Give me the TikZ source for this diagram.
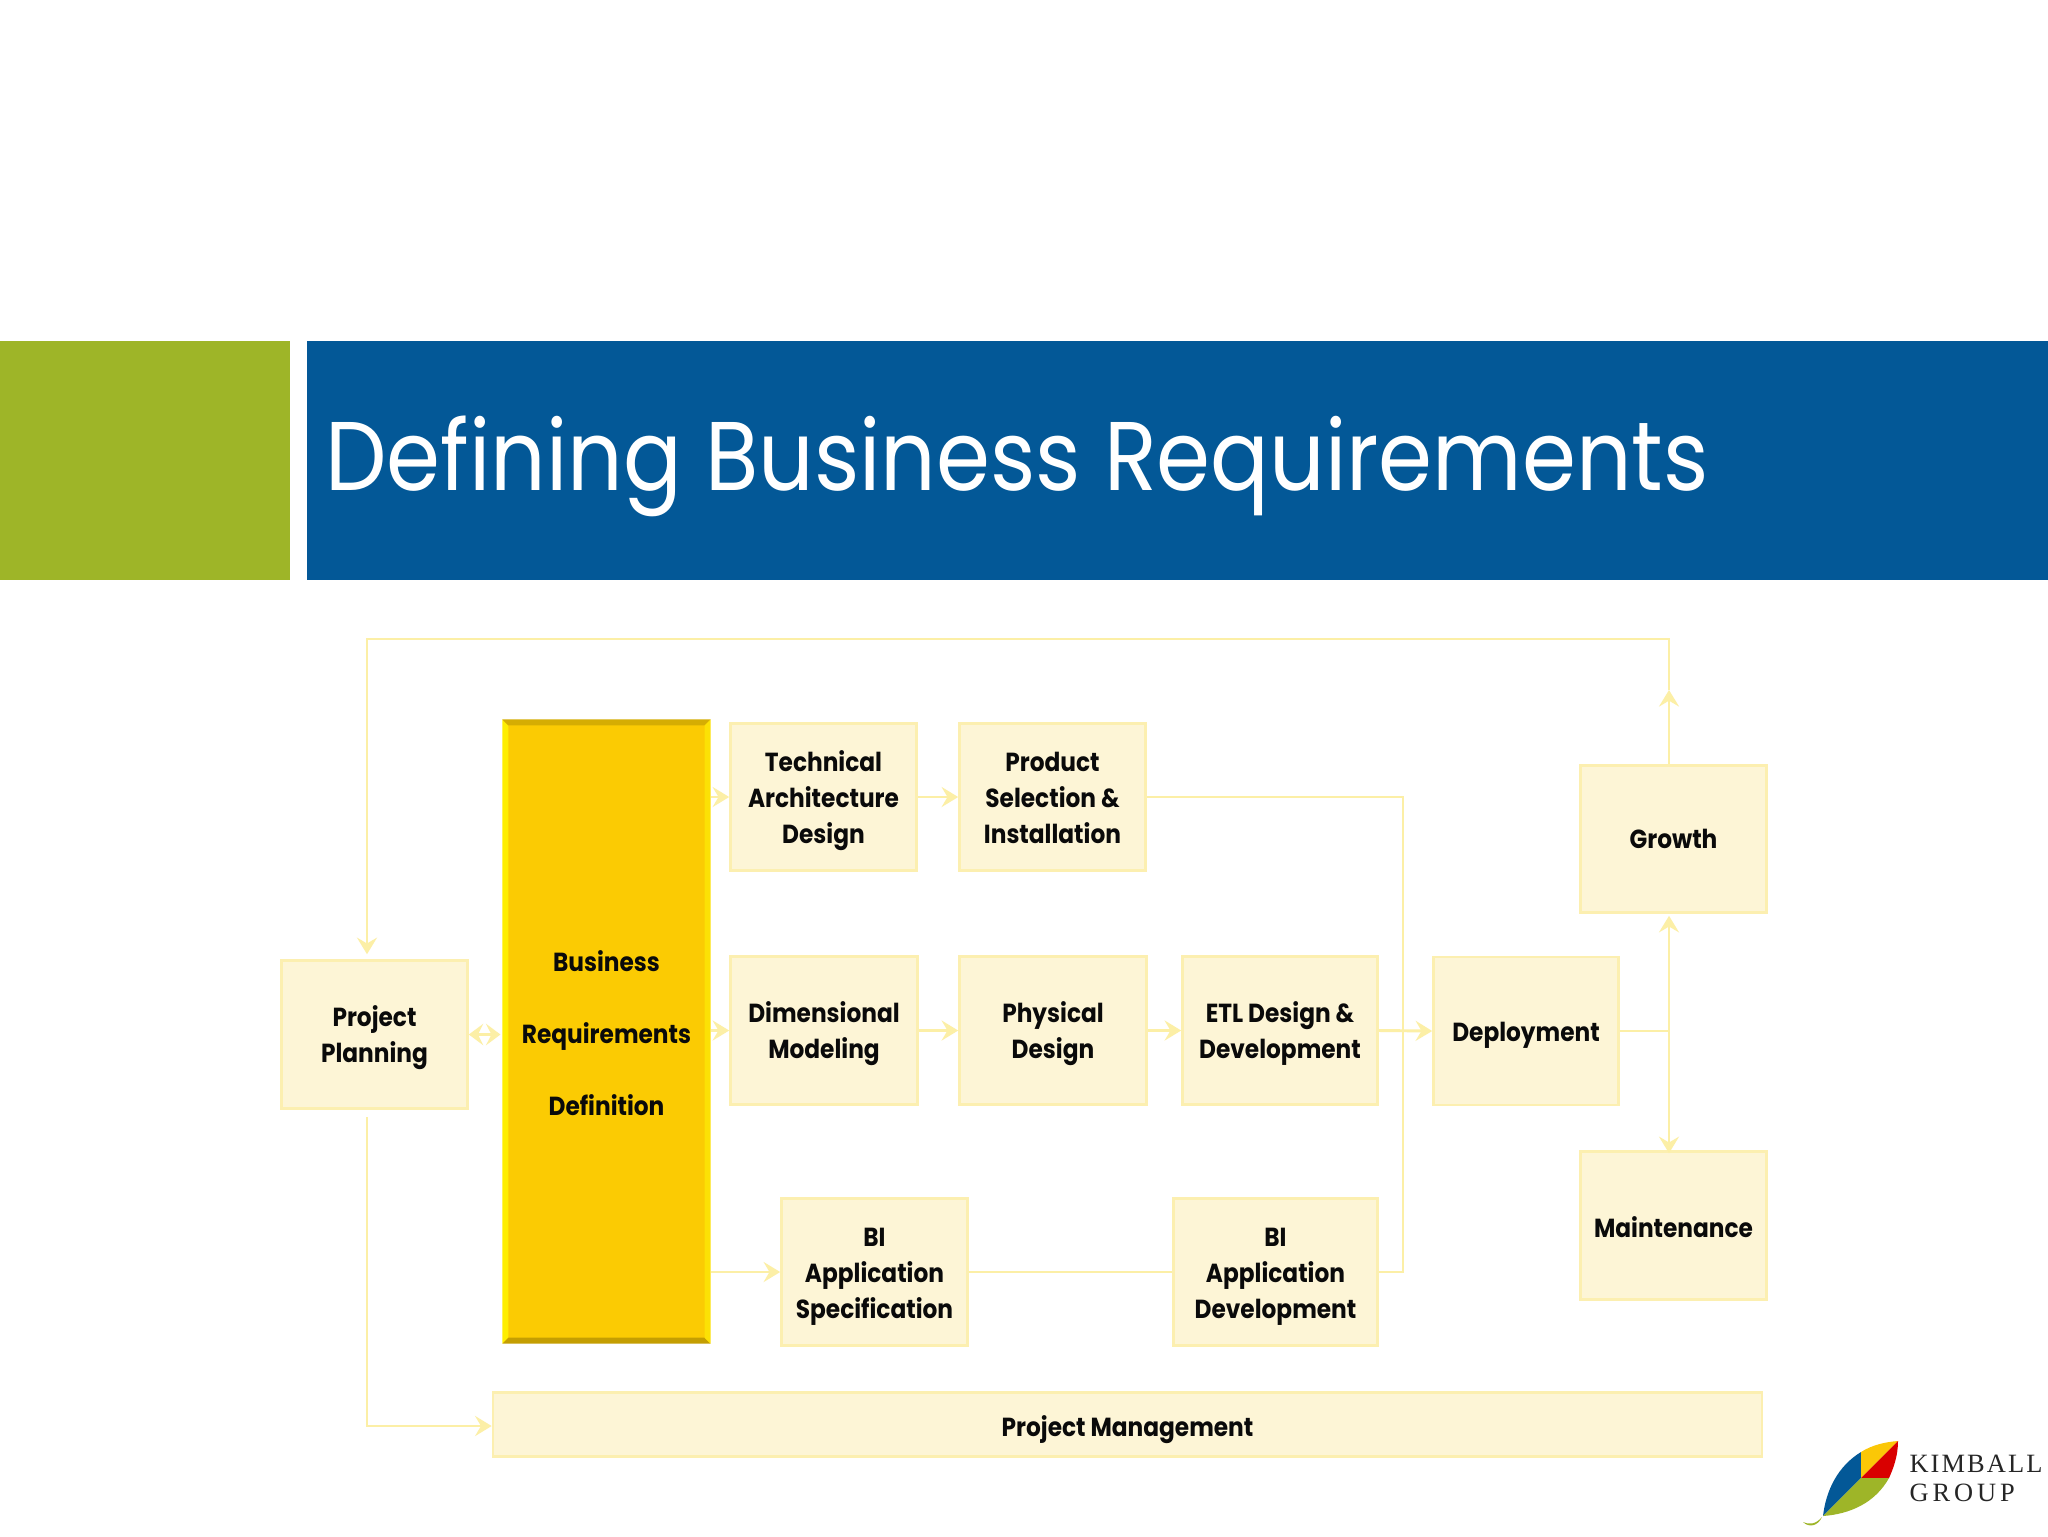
\documentclass[tikz,border=0pt]{standalone}
\usepackage{fontspec}
\usetikzlibrary{arrows.meta,calc}
\setmainfont{Poppins}
\newfontfamily\titlefont[FakeStretch=0.89]{Poppins}
\newfontfamily\labelfont[FakeStretch=0.89]{Poppins}
\newfontfamily\logofonta[LetterSpace=8]{Liberation Serif}
\newfontfamily\logofontb[LetterSpace=15]{Liberation Serif}
\newcommand\ts[1]{\rule{0pt}{#1pt}}
\newcommand\bs{\rule[-3pt]{0pt}{3pt}}
\definecolor{hdrgreen}{HTML}{9EB528}
\definecolor{hdrblue}{HTML}{035897}
\definecolor{boxfill}{HTML}{FDF5D6}
\definecolor{boxline}{HTML}{FCEFB0}
\definecolor{connline}{HTML}{FCEFA6}
\definecolor{bizfill}{HTML}{FBCB03}
\definecolor{labelink}{HTML}{0A0A0A}
\tikzset{
  x=0.375pt,y=-0.375pt,
  wh/.style n args={2}{minimum width=#1*0.375pt,minimum height=#2*0.375pt},
  stepbox/.style={rectangle,draw=boxline,fill=boxfill,line width=1pt,inner sep=0pt,align=center,
    text=labelink,font=\labelfont\bfseries\fontsize{9.8}{13.5}\selectfont},
  conn/.style={draw=connline,line width=1.1pt},
  tip/.tip={Stealth[length=6.2pt,width=7.5pt,inset=2.2pt]},
  tipsmall/.tip={Stealth[length=5.4pt,width=8pt,inset=2pt]},
}
\begin{document}
\begin{tikzpicture}
\useasboundingbox (0,0) rectangle (2048,1536);
\fill[white] (0,0) rectangle (2048,1536);
% header
\fill[hdrgreen] (0,341) rectangle (290,580);
\fill[hdrblue] (307,341) rectangle (2048,580);
\node[anchor=base west,inner sep=0pt,text=white,font=\titlefont\fontsize{36.6}{40}\selectfont] (title) at (325,490) {Defining Business Requirements};
% boxes
\node[stepbox,wh={186}{148}] (plan) at (374.5,1034.5) {\ts{10.5}Project\\Planning\bs};
\node[rectangle,fill=bizfill,inner sep=0pt,align=center,wh={207}{623},text=labelink,
  font=\labelfont\bfseries\fontsize{9.8}{27}\selectfont] (biz) at (606.5,1031.5) {\ts{12}Business\\Requirements\\Definition\bs};
\node[stepbox,wh={186}{147}] (tech) at (823.5,797) {\ts{11}Technical\\Architecture\\Design\bs};
\node[stepbox,wh={186}{147}] (prod) at (1052.5,797) {\ts{11}Product\\Selection \&\\Installation\bs};
\node[stepbox,wh={186}{147}] (growth) at (1673.5,839) {\ts{10}Growth\bs};
\node[stepbox,wh={187}{148}] (dim) at (824,1030.5) {\ts{10.5}Dimensional\\Modeling\bs};
\node[stepbox,wh={187}{148}] (phys) at (1053,1030.5) {\ts{10.5}Physical\\Design\bs};
\node[stepbox,wh={195}{148}] (etl) at (1280,1030.5) {\ts{10.5}ETL Design \&\\Development\bs};
\node[stepbox,wh={185}{148}] (depl) at (1526,1031) {\ts{11}Deployment\bs};
\node[stepbox,wh={186}{148}] (maint) at (1673.5,1225.5) {\ts{12}Maintenance\bs};
\node[stepbox,wh={186}{147}] (bispec) at (874.5,1272) {\ts{11}BI\\Application\\Specification\bs};
\node[stepbox,wh={204}{147}] (bidev) at (1275.5,1272) {\ts{11}BI\\Application\\Development\bs};
\node[stepbox,wh={1269}{64}] (pm) at (1127.5,1424.5) {\ts{12}Project Management\bs};
% bevel of the central box
\fill[yellow!90!bizfill] (biz.north west) -- (biz.south west) -- ++(6,-6) -- ($(biz.north west)+(6,6)$) -- cycle;
\fill[bizfill!85!black] (biz.north west) -- (biz.north east) -- ++(-6,6) -- ($(biz.north west)+(6,6)$) -- cycle;
\fill[bizfill!78!black] (biz.south west) -- (biz.south east) -- ++(-6,-6) -- ($(biz.south west)+(6,-6)$) -- cycle;
\fill[yellow!60!bizfill] (biz.north east) -- (biz.south east) -- ++(-6,-6) -- ($(biz.north east)+(-6,6)$) -- cycle;
% routing points
\coordinate (loopR) at (1669,639);
\coordinate (loopL) at (367,639);
\coordinate (growthmid) at (1669,690);
\coordinate (busX) at (1403,797);
\coordinate (busY) at (1403,1272);
\coordinate (planlow) at (367,1117);
\coordinate (planpm) at (367,1426);
% connectors
\draw[conn,-tip] (loopR |- growth.north) -- (growthmid);
\draw[conn,-tip,line join=miter] (growthmid) -- (loopR) -- (loopL) -- ($(loopL |- plan.north)+(0,-5)$);
\draw[conn,tipsmall-tipsmall] (plan.east) -- ($(biz.west |- plan.east)+(-2,0)$);
\draw[conn,-tip] (biz.east |- tech.west) -- (tech.west);
\draw[conn,-tip] (tech.east) -- (prod.west);
\draw[conn] (prod.east) -- (busX) -- (busY) -- (bidev.east);
\draw[conn,-tip] (biz.east |- dim.west) -- (dim.west);
\draw[conn,-tip] (dim.east) -- (phys.west);
\draw[conn,-tip] (phys.east) -- (etl.west);
\draw[conn,-tip] (etl.east) -- (depl.west);
\draw[conn,-tip] (biz.east |- bispec.west) -- (bispec.west);
\draw[conn] (bispec.east) -- (bidev.west);
\draw[conn] (depl.east) -- (loopR |- depl.east);
\draw[conn,tip-tip] ($(loopR |- growth.south)+(0,2)$) -- ($(loopR |- maint.north)+(0,3)$);
\draw[conn,-tip] (planlow) -- (planpm) -- (pm.west |- planpm);
% logo
\fill[hdrblue] (1861,1452) .. controls (1838,1466) and (1826,1490) .. (1823,1516) -- (1861,1478) -- cycle;
\fill[yellow!60!orange] (1861,1452) .. controls (1872,1445) and (1885,1442) .. (1898,1441) -- (1861,1478) -- cycle;
\fill[red!85!black] (1898,1441) .. controls (1898,1455) and (1894,1467) .. (1889,1478) -- (1861,1478) -- cycle;
\fill[hdrgreen] (1889,1478) .. controls (1875,1503) and (1850,1514) .. (1823,1516) -- (1861,1478) -- cycle;
\fill[hdrgreen] (1822,1517) .. controls (1816,1524) and (1810,1525) .. (1803,1522) .. controls (1809,1528) and (1818,1526) .. (1822,1517) -- cycle;
\node[anchor=base west,inner sep=0pt,text=black!85,font=\logofonta\fontsize{9.9}{10}\selectfont] (kimball) at (1909,1472) {KIMBALL};
\node[anchor=base west,inner sep=0pt,text=black!85,font=\logofontb\fontsize{9.9}{10}\selectfont] (group) at (1909,1501) {GROUP};
\end{tikzpicture}
\end{document}
